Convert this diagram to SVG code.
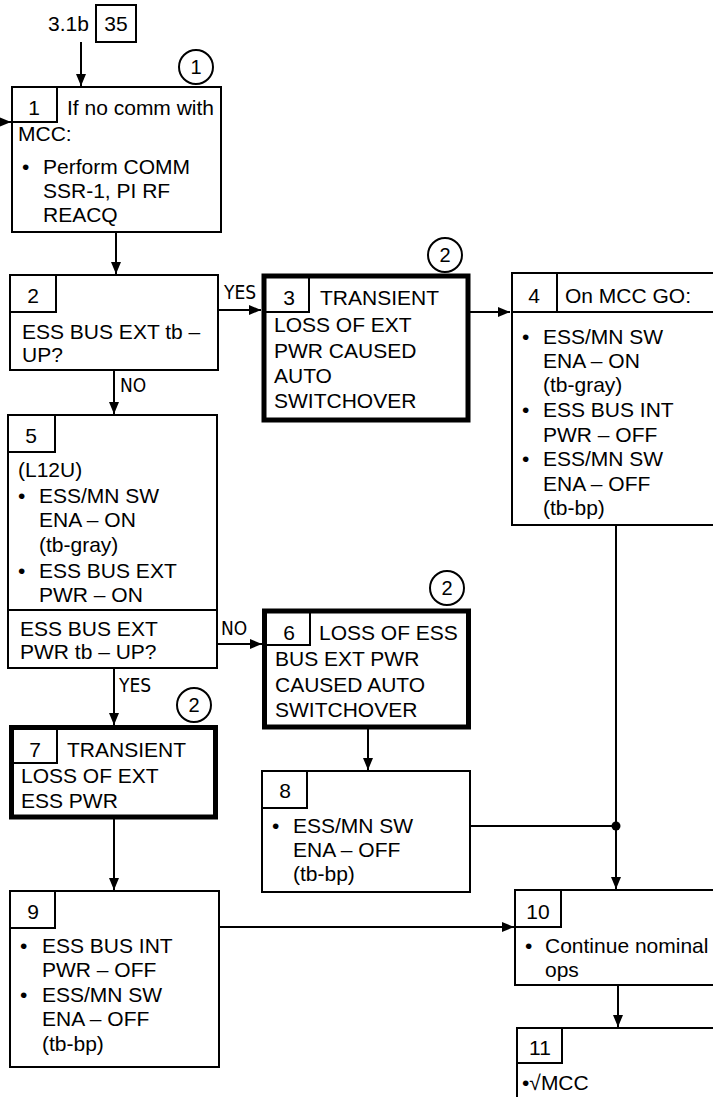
<svg xmlns="http://www.w3.org/2000/svg" width="713" height="1097" viewBox="0 0 713 1097">
<style>
.t{font-family:"Liberation Sans",Arial,sans-serif;font-size:21px;fill:#000}
.n{font-family:"Liberation Sans",Arial,sans-serif;font-size:21px;fill:#000;text-anchor:middle}
.lbl{font-family:"DejaVu Sans Condensed","DejaVu Sans",sans-serif;font-size:19px;fill:#000}
.box{fill:#fff;stroke:#000;stroke-width:2}
.thick{fill:#fff;stroke:#000;stroke-width:5}
.sub{fill:none;stroke:#000;stroke-width:2}
.ln{fill:none;stroke:#000;stroke-width:2}
.circ{fill:#fff;stroke:#000;stroke-width:2}
</style>
<defs>
<marker id="ah" markerUnits="userSpaceOnUse" markerWidth="12" markerHeight="10" refX="12" refY="5" orient="auto">
<path d="M0,0 L12,5 L0,10 z" fill="#000"/>
</marker>
</defs>
<rect width="713" height="1097" fill="#fff"/>

<g id="ref">
<text class="t" x="48" y="31">3.1b</text>
<rect class="box" x="96" y="5" width="40" height="37"/>
<text class="n" x="116" y="31">35</text>
</g>

<g id="connectors">
<line class="ln" x1="81" y1="42" x2="81" y2="86" marker-end="url(#ah)"/>
<line class="ln" x1="0" y1="122" x2="11" y2="122" marker-end="url(#ah)"/>
<line class="ln" x1="116" y1="232" x2="116" y2="274" marker-end="url(#ah)"/>
<line class="ln" x1="218" y1="310" x2="261" y2="310" marker-end="url(#ah)"/>
<text class="lbl" x="224" y="299">YES</text>
<line class="ln" x1="114" y1="370" x2="114" y2="414" marker-end="url(#ah)"/>
<text class="lbl" x="120" y="392">NO</text>
<line class="ln" x1="470" y1="312" x2="510" y2="312" marker-end="url(#ah)"/>
<line class="ln" x1="217" y1="644" x2="262" y2="644" marker-end="url(#ah)"/>
<text class="lbl" x="221" y="635">NO</text>
<line class="ln" x1="114" y1="668" x2="114" y2="725" marker-end="url(#ah)"/>
<text class="lbl" x="119" y="692">YES</text>
<line class="ln" x1="368" y1="729" x2="368" y2="770" marker-end="url(#ah)"/>
<line class="ln" x1="114" y1="819" x2="114" y2="890" marker-end="url(#ah)"/>
<line class="ln" x1="616" y1="525" x2="616" y2="889" marker-end="url(#ah)"/>
<line class="ln" x1="470" y1="826" x2="616" y2="826"/>
<circle cx="616" cy="826" r="4.5" fill="#000"/>
<line class="ln" x1="219" y1="927" x2="514" y2="927" marker-end="url(#ah)"/>
<line class="ln" x1="618" y1="985" x2="618" y2="1027" marker-end="url(#ah)"/>
</g>

<g id="node1">
<circle class="circ" cx="196" cy="67" r="17"/>
<text class="n" x="196" y="74" style="font-size:20px">1</text>
<rect class="box" x="12" y="87" width="209" height="145"/>
<path class="sub" d="M12,122 H57 V87"/>
<text class="n" x="34" y="115">1</text>
<text class="t" x="67" y="115">If no comm with</text>
<text class="t" x="18" y="141">MCC:</text>
<text class="t" x="22" y="174">•</text>
<text class="t" x="43" y="174">Perform COMM</text>
<text class="t" x="43" y="198">SSR-1, PI RF</text>
<text class="t" x="43" y="222">REACQ</text>
</g>

<g id="node2">
<rect class="box" x="10" y="275" width="208" height="95"/>
<path class="sub" d="M10,312 H56 V275"/>
<text class="n" x="33" y="303">2</text>
<text class="t" x="22" y="339">ESS BUS EXT tb –</text>
<text class="t" x="22" y="362">UP?</text>
</g>

<g id="node3">
<circle class="circ" cx="445" cy="255" r="17"/>
<text class="n" x="445" y="262" style="font-size:20px">2</text>
<rect class="thick" x="264" y="276" width="204" height="144"/>
<path class="sub" d="M266,312 H309 V278"/>
<text class="n" x="289" y="305">3</text>
<text class="t" x="320" y="305">TRANSIENT</text>
<text class="t" x="274" y="332">LOSS OF EXT</text>
<text class="t" x="274" y="358">PWR CAUSED</text>
<text class="t" x="274" y="383">AUTO</text>
<text class="t" x="274" y="408">SWITCHOVER</text>
</g>

<g id="node4">
<rect class="box" x="512" y="273" width="210" height="252"/>
<line class="ln" x1="512" y1="312" x2="713" y2="312"/>
<line class="ln" x1="557" y1="273" x2="557" y2="312"/>
<text class="n" x="534" y="303">4</text>
<text class="t" x="565" y="303">On MCC GO:</text>
<text class="t" x="522" y="344">•</text>
<text class="t" x="543" y="344">ESS/MN SW</text>
<text class="t" x="543" y="368">ENA – ON</text>
<text class="t" x="543" y="392">(tb-gray)</text>
<text class="t" x="522" y="417">•</text>
<text class="t" x="543" y="417">ESS BUS INT</text>
<text class="t" x="543" y="442">PWR – OFF</text>
<text class="t" x="522" y="466">•</text>
<text class="t" x="543" y="466">ESS/MN SW</text>
<text class="t" x="543" y="491">ENA – OFF</text>
<text class="t" x="543" y="515">(tb-bp)</text>
</g>

<g id="node5">
<rect class="box" x="8" y="415" width="209" height="253"/>
<path class="sub" d="M8,452 H55 V415"/>
<line class="ln" x1="8" y1="610" x2="217" y2="610"/>
<text class="n" x="31" y="443">5</text>
<text class="t" x="18" y="477">(L12U)</text>
<text class="t" x="18" y="503">•</text>
<text class="t" x="39" y="503">ESS/MN SW</text>
<text class="t" x="39" y="527">ENA – ON</text>
<text class="t" x="39" y="552">(tb-gray)</text>
<text class="t" x="18" y="578">•</text>
<text class="t" x="39" y="578">ESS BUS EXT</text>
<text class="t" x="39" y="602">PWR – ON</text>
<text class="t" x="20" y="636">ESS BUS EXT</text>
<text class="t" x="20" y="659">PWR tb – UP?</text>
</g>

<g id="node6">
<circle class="circ" cx="447" cy="588" r="17"/>
<text class="n" x="447" y="595" style="font-size:20px">2</text>
<rect class="thick" x="264.5" y="611" width="204" height="116"/>
<path class="sub" d="M267,645 H310 V613"/>
<text class="n" x="289" y="640">6</text>
<text class="t" x="319" y="640">LOSS OF ESS</text>
<text class="t" x="275" y="666">BUS EXT PWR</text>
<text class="t" x="275" y="692">CAUSED AUTO</text>
<text class="t" x="275" y="717">SWITCHOVER</text>
</g>

<g id="node7">
<circle class="circ" cx="194" cy="705" r="17"/>
<text class="n" x="194" y="712" style="font-size:20px">2</text>
<rect class="thick" x="11.5" y="727.5" width="204" height="89.5"/>
<path class="sub" d="M14,763 H57 V730"/>
<text class="n" x="35" y="757">7</text>
<text class="t" x="67" y="757">TRANSIENT</text>
<text class="t" x="21" y="783">LOSS OF EXT</text>
<text class="t" x="21" y="808">ESS PWR</text>
</g>

<g id="node8">
<rect class="box" x="262" y="771" width="208" height="121"/>
<path class="sub" d="M262,808 H307 V771"/>
<text class="n" x="285" y="798">8</text>
<text class="t" x="272" y="833">•</text>
<text class="t" x="293" y="833">ESS/MN SW</text>
<text class="t" x="293" y="857">ENA – OFF</text>
<text class="t" x="293" y="881">(tb-bp)</text>
</g>

<g id="node9">
<rect class="box" x="10" y="891" width="209" height="176"/>
<path class="sub" d="M10,928 H55 V891"/>
<text class="n" x="33" y="919">9</text>
<text class="t" x="20" y="953">•</text>
<text class="t" x="42" y="953">ESS BUS INT</text>
<text class="t" x="42" y="977">PWR – OFF</text>
<text class="t" x="20" y="1002">•</text>
<text class="t" x="42" y="1002">ESS/MN SW</text>
<text class="t" x="42" y="1026">ENA – OFF</text>
<text class="t" x="42" y="1051">(tb-bp)</text>
</g>

<g id="node10">
<rect class="box" x="515" y="890" width="210" height="95"/>
<path class="sub" d="M515,927 H561 V890"/>
<text class="n" x="538" y="919">10</text>
<text class="t" x="525" y="953">•</text>
<text class="t" x="545" y="953">Continue nominal</text>
<text class="t" x="545" y="977">ops</text>
</g>

<g id="node11">
<rect class="box" x="517" y="1028" width="210" height="90"/>
<path class="sub" d="M517,1063 H562 V1028"/>
<text class="n" x="540" y="1055">11</text>
<text class="t" x="522" y="1090">•√MCC</text>
</g>
</svg>
